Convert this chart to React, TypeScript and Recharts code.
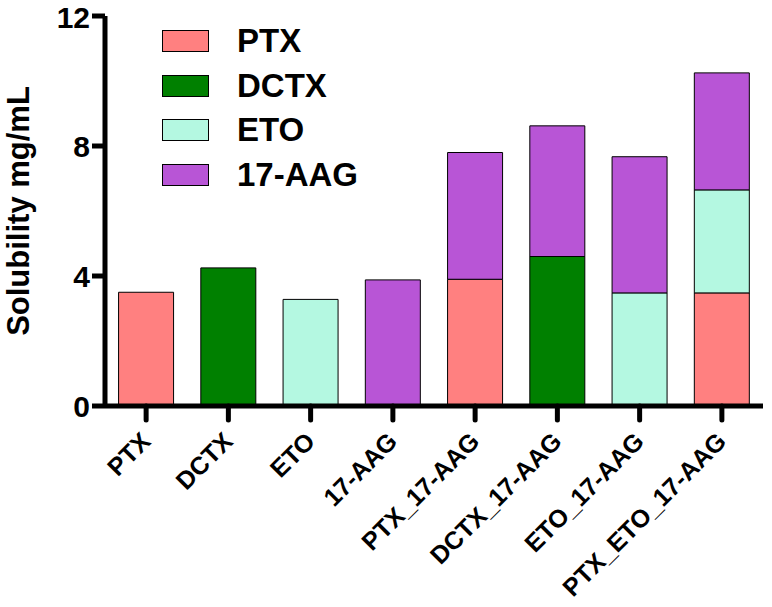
import React from "react";
import { BarChart, Bar, XAxis, YAxis, Legend, Label } from "recharts";

// categories and stacked components (mg/mL)
const categories = [
  "PTX",
  "DCTX",
  "ETO",
  "17-AAG",
  "PTX_17-AAG",
  "DCTX_17-AAG",
  "ETO_17-AAG",
  "PTX_ETO_17-AAG",
];
const ptxValues = [3.5, 0, 0, 0, 3.9, 0, 0, 3.48];
const dctxValues = [0, 4.25, 0, 0, 0, 4.6, 0, 0];
const etoValues = [0, 0, 3.28, 0, 0, 0, 3.48, 3.17];
const aagValues = [0, 0, 0, 3.88, 3.9, 4.02, 4.19, 3.6];
const yTicks = [0, 4, 8, 12];

const series = [
  { key: "PTX", name: "PTX", color: "#FF8080" },
  { key: "DCTX", name: "DCTX", color: "#008000" },
  { key: "ETO", name: "ETO", color: "#B4F8E1" },
  { key: "AAG", name: "17-AAG", color: "#B855D6" },
];

const data = categories.map((name, i) => ({
  name,
  PTX: ptxValues[i],
  DCTX: dctxValues[i],
  ETO: etoValues[i],
  AAG: aagValues[i],
}));

const FONT = '"Liberation Sans", Arial, sans-serif';

function XTick(props: any) {
  const { x, y, payload } = props;
  const tx = x + 6;
  const ty = y + 21;
  return (
    <text
      x={tx}
      y={ty}
      transform={`rotate(-45, ${tx}, ${ty})`}
      textAnchor="end"
      fontFamily={FONT}
      fontWeight="bold"
      fontSize={25}
      fill="#000"
    >
      {payload.value}
    </text>
  );
}

function renderLegend() {
  return (
    <div style={{ fontFamily: FONT }}>
      {series.map((s) => (
        <div
          key={s.key}
          style={{ display: "flex", alignItems: "center", height: 44.5 }}
        >
          <div
            style={{
              width: 45,
              height: 20,
              background: s.color,
              border: "1px solid #000",
              marginRight: 28,
            }}
          />
          <span style={{ fontSize: 33, fontWeight: "bold", color: "#000" }}>
            {s.name}
          </span>
        </div>
      ))}
    </div>
  );
}

export default function App() {
  return (
    <div style={{ position: "absolute", left: 0, top: 0, background: "#fff" }}>
      <BarChart
        width={772}
        height={607}
        data={data}
        margin={{ top: 16, right: 9, left: 0, bottom: 0 }}
        barCategoryGap="16.5%"
      >
        <XAxis
          dataKey="name"
          height={201}
          axisLine={{ stroke: "#000", strokeWidth: 5 }}
          tickLine={{ stroke: "#000", strokeWidth: 5, strokeLinecap: "round" }}
          tickSize={14}
          tick={<XTick />}
          interval={0}
        />
        <YAxis
          width={105}
          domain={[0, 12]}
          ticks={yTicks}
          axisLine={{ stroke: "#000", strokeWidth: 5 }}
          tickLine={{ stroke: "#000", strokeWidth: 5 }}
          tickSize={13}
          tickMargin={2}
          tick={{
            fill: "#000",
            fontSize: 30,
            fontWeight: "bold",
            fontFamily: FONT,
          }}
        >
          <Label
            value="Solubility mg/mL"
            angle={-90}
            position="insideLeft"
            offset={18}
            style={{
              fill: "#000",
              fontSize: 31,
              fontWeight: "bold",
              fontFamily: FONT,
              textAnchor: "middle",
            }}
          />
        </YAxis>
        <Legend
          layout="vertical"
          align="center"
          verticalAlign="middle"
          content={renderLegend}
          wrapperStyle={{ left: 162, top: 19, width: 250 }}
        />
        {series.map((s) => (
          <Bar
            key={s.key}
            dataKey={s.key}
            name={s.name}
            stackId="a"
            fill={s.color}
            stroke="#000"
            strokeWidth={1}
            isAnimationActive={false}
          />
        ))}
      </BarChart>
    </div>
  );
}
